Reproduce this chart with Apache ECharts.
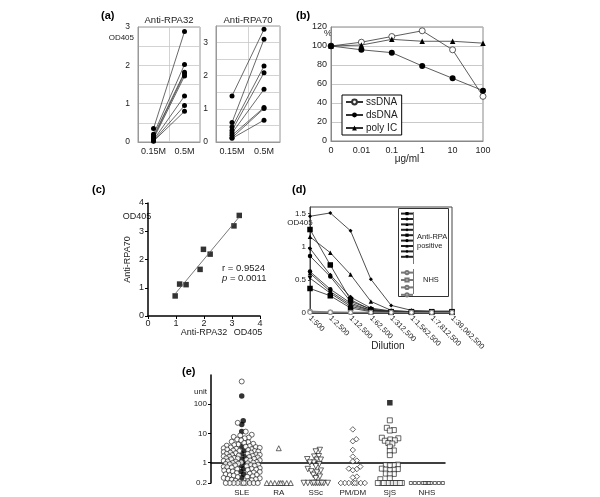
<!DOCTYPE html>
<html><head><meta charset="utf-8">
<script src="https://cdn.jsdelivr.net/npm/echarts@6/dist/echarts.min.js"></script>
<style>html,body{margin:0;padding:0;background:#fff}#c{width:600px;height:497px}</style>
</head><body><div id="c"></div>
<script>
// ---------- (a) ----------
const aCats = ['0.15M', '0.5M'];
const rpa32Low  = [0.35, 0.20, 0.15, 0.12, 0.08, 0.05, 0.03, 0.02];
const rpa32High = [2.88, 2.02, 1.82, 1.78, 1.72, 1.20, 0.95, 0.80];
const rpa70Low  = [1.39, 0.59, 0.45, 0.35, 0.27, 0.20, 0.13, 0.11];
const rpa70High = [3.40, 3.10, 2.29, 2.09, 1.59, 1.04, 1.01, 0.66];
// ---------- (b) ----------
const bCats = ['0', '0.01', '0.1', '1', '10', '100'];
const ssDNA  = [100, 104, 110, 116, 96, 47];
const dsDNA  = [100, 96, 93, 79, 66, 53];
const polyIC = [100, 101, 107, 105, 105, 103];
// ---------- (c) ----------
const cRPA32 = [0.97, 1.13, 1.36, 1.86, 1.98, 2.22, 3.07, 3.26];
const cRPA70 = [0.71, 1.13, 1.11, 1.65, 2.36, 2.19, 3.19, 3.56];
const cStats = ['r = 0.9524', '0.0011'];
// ---------- (d) ----------
const dCats = ['1:500', '1:2,500', '1:12,500', '1:62,500', '1:312,500', '1:1,562,500', '1:7,812,500', '1:39,062,500'];
const dPos1 = [1.26, 0.725, 0.20, 0.05, 0.02, 0.02, 0.02, 0.02];
const dPos2 = [0.86, 0.55, 0.175, 0.06, 0.025, 0.015, 0.015, 0.015];
const dPos3 = [1.15, 0.91, 0.58, 0.175, 0.04, 0.02, 0.02, 0.02];
const dPos4 = [0.975, 0.575, 0.24, 0.075, 0.03, 0.02, 0.015, 0.015];
const dPos5 = [0.37, 0.26, 0.075, 0.02, 0.01, 0.01, 0.01, 0.01];
const dPos6 = [0.625, 0.36, 0.15, 0.04, 0.02, 0.015, 0.01, 0.01];
const dPos7 = [0.60, 0.325, 0.125, 0.04, 0.02, 0.01, 0.01, 0.01];
const dPos8 = [1.46, 1.51, 1.24, 0.51, 0.115, 0.04, 0.03, 0.03];
const dPos9 = [0.525, 0.30, 0.10, 0.03, 0.015, 0.01, 0.01, 0.01];
const dNhs1 = [0.03, 0.015, 0.01, 0.01, 0.01, 0.01, 0.01, 0.01];
const dNhs2 = [0.02, 0.012, 0.01, 0.01, 0.01, 0.01, 0.01, 0.01];
const dNhs3 = [0.015, 0.01, 0.008, 0.008, 0.008, 0.008, 0.008, 0.008];
const dNhs4 = [0.01, 0.01, 0.008, 0.008, 0.008, 0.008, 0.008, 0.008];
const dLegendText = ['Anti-RPA\npositive', 'NHS'];
// ---------- (e) ----------
const eGroups = ['SLE', 'RA', 'SSc', 'PM/DM', 'SjS', 'NHS'];
const eTicks = [0.2, 1, 10, 100];
const sleOpen = [600, 23, 11.5, 9, 8.5, 7.6, 7.2, 6.8, 6.2, 5.8, 5.2, 5.0, 4.7, 4.4, 4.2, 4.0, 3.8, 3.7, 3.5, 3.4, 3.3, 3.2, 3.1, 3.0,
  2.9, 2.8, 2.7, 2.6, 2.5, 2.5, 2.4, 2.3, 2.2, 2.2, 2.1, 2.0, 2.0, 1.9, 1.85, 1.8, 1.75, 1.7, 1.65, 1.6, 1.55, 1.5, 1.45, 1.4, 1.38, 1.35, 1.3, 1.25, 1.2, 1.18, 1.15, 1.1, 1.08, 1.05, 1.02, 1.0,
  0.98, 0.95, 0.92, 0.9, 0.88, 0.85, 0.82, 0.8, 0.78, 0.75, 0.72, 0.7, 0.68, 0.65, 0.62, 0.6, 0.58, 0.56, 0.54, 0.52, 0.5, 0.48, 0.46, 0.44, 0.42, 0.4, 0.38, 0.37, 0.36, 0.34, 0.33, 0.32, 0.3, 0.29, 0.28, 0.27, 0.26, 0.25, 0.24, 0.23, 0.22,
  0.2, 0.2, 0.2, 0.2, 0.2, 0.2, 0.2, 0.2, 0.2, 0.2];
const sleFilled = [190, 27, 20, 11.5, 3.6, 2.6, 2.0, 1.6, 1.3, 1.0, 0.8, 0.62, 0.5, 0.4, 0.3];
const raOpen = [3.1, 0.2, 0.2, 0.2, 0.2, 0.2, 0.2, 0.2, 0.2];
const sscOpen = [2.7, 2.4, 1.65, 1.6, 1.3, 1.25, 1.25, 1.0, 1.0, 0.88, 0.75, 0.6, 0.53, 0.5, 0.46, 0.38, 0.33, 0.29,
  0.2, 0.2, 0.2, 0.2, 0.2, 0.2, 0.2, 0.2, 0.2, 0.2];
const pmdmOpen = [13.7, 6.3, 5.4, 2.7, 1.6, 1.17, 1.1, 0.73, 0.62, 0.6, 0.55, 0.33, 0.31,
  0.2, 0.2, 0.2, 0.2, 0.2, 0.2, 0.2, 0.2];
const sjsOpen = [28, 15.5, 13, 12.5, 7.1, 6.8, 6.2, 5.8, 5.6, 4.7, 4.5, 3.5, 2.6, 2.5, 1.8, 0.85, 0.83, 0.82, 0.8, 0.62, 0.6, 0.58, 0.57, 0.55, 0.42, 0.41, 0.4, 0.29, 0.27,
  0.2, 0.2, 0.2, 0.2, 0.2, 0.2, 0.2, 0.2, 0.2, 0.2, 0.2, 0.2];
const sjsFilled = [112];
const nhsVals = [0.2, 0.2, 0.2, 0.2, 0.2, 0.2, 0.2, 0.2, 0.2, 0.2, 0.2];

// ---------- layout ----------
const FONT = 'Liberation Sans, Arial, sans-serif';
const G = [
  {left: 138, top: 27, width: 62, height: 115},
  {left: 216, top: 26, width: 64, height: 116},
  {left: 331, top: 27, width: 152, height: 114},
  {left: 148, top: 203, width: 112, height: 113},
  {left: 310, top: 207, width: 142, height: 106},
  {left: 211, top: 375, width: 234, height: 108}
];
const eXmin = 0.17, eXmax = 6.49;
const eYmin = Math.log10(0.2), eYmax = 3;
const eHalfWidth = [18, 13, 14, 12, 13, 16];
const pxPerDecade = G[5].height / (eYmax - eYmin);
const pxPerUnitX = G[5].width / (eXmax - eXmin);

// deterministic column-scatter layout: x offsets in px, limited to a half width
function swarm(groups, D, step, half) {
  const placed = [];
  const out = [];
  groups.forEach(vals => {
    const order = vals.map((v, i) => i).sort((a, b) => vals[a] - vals[b]);
    const res = new Array(vals.length);
    order.forEach(i => {
      const py = Math.log10(vals[i]) * pxPerDecade;
      let chosen = null, best = 0, bestD = -1;
      const nK = Math.floor(half / step) * 2 + 1;
      for (let k = 0; k < nK; k++) {
        const o = (k % 2 === 1 ? 1 : -1) * Math.ceil(k / 2) * step;
        let md = Infinity;
        for (const p of placed) {
          const dx = p.x - o, dy = p.y - py;
          const d = Math.sqrt(dx * dx + dy * dy);
          if (d < md) md = d;
        }
        if (md >= D) { chosen = o; break; }
        if (md > bestD) { bestD = md; best = o; }
      }
      const off = chosen === null ? best : chosen;
      placed.push({x: off, y: py});
      res[i] = off;
    });
    out.push(res);
  });
  return out;
}
function eSeries(groupIdx, groupsVals, styles) {
  const offs = swarm(groupsVals, 4, 0.5, eHalfWidth[groupIdx]);
  return groupsVals.map((vals, k) => Object.assign({
    type: 'scatter', xAxisIndex: 5, yAxisIndex: 5, silent: true,
    data: vals.map((v, i) => [groupIdx + 1 + offs[k][i] / pxPerUnitX, Math.log10(v)])
  }, styles[k]));
}
const openStyle = (sym, size, rot) => ({symbol: sym, symbolSize: size, symbolRotate: rot || 0,
  itemStyle: {color: '#fff', borderColor: '#111', borderWidth: 0.8}});
const filledStyle = (sym, size) => ({symbol: sym, symbolSize: size, itemStyle: {color: '#000'}});

const series = [];
// (a)
rpa32Low.forEach((v, i) => series.push({type: 'line', xAxisIndex: 0, yAxisIndex: 0, data: [v, rpa32High[i]],
  symbol: 'circle', symbolSize: 5, itemStyle: {color: '#000'}, lineStyle: {color: '#444', width: 0.8}, silent: true}));
rpa70Low.forEach((v, i) => series.push({type: 'line', xAxisIndex: 1, yAxisIndex: 1, data: [v, rpa70High[i]],
  symbol: 'circle', symbolSize: 5, itemStyle: {color: '#000'}, lineStyle: {color: '#444', width: 0.8}, silent: true}));
// (b)
series.push({name: 'ssDNA', type: 'line', xAxisIndex: 2, yAxisIndex: 2, data: ssDNA, symbol: 'circle', symbolSize: 6,
  itemStyle: {color: '#fff', borderColor: '#333', borderWidth: 0.8}, lineStyle: {color: '#333', width: 0.8}});
series.push({name: 'dsDNA', type: 'line', xAxisIndex: 2, yAxisIndex: 2, data: dsDNA, symbol: 'circle', symbolSize: 6,
  itemStyle: {color: '#000'}, lineStyle: {color: '#333', width: 0.8}});
series.push({name: 'poly IC', type: 'line', xAxisIndex: 2, yAxisIndex: 2, data: polyIC, symbol: 'triangle', symbolSize: 5.5,
  itemStyle: {color: '#000'}, lineStyle: {color: '#333', width: 0.8}});
// (c)
series.push({type: 'scatter', xAxisIndex: 3, yAxisIndex: 3, data: cRPA32.map((x, i) => [x, cRPA70[i]]),
  symbol: 'rect', symbolSize: 5.5, itemStyle: {color: '#000'}, silent: true});
(function () {
  const n = cRPA32.length;
  const mx = cRPA32.reduce((a, b) => a + b) / n, my = cRPA70.reduce((a, b) => a + b) / n;
  let sxy = 0, sxx = 0;
  cRPA32.forEach((x, i) => { sxy += (x - mx) * (cRPA70[i] - my); sxx += (x - mx) * (x - mx); });
  const b = sxy / sxx, a = my - b * mx;
  const x0 = Math.min(...cRPA32), x1 = Math.max(...cRPA32);
  series.push({type: 'line', xAxisIndex: 3, yAxisIndex: 3, data: [[x0, a + b * x0], [x1, a + b * x1]],
    symbol: 'none', lineStyle: {color: '#555', width: 0.8}, silent: true});
})();
// (d)
const dPosAll = [dPos1, dPos2, dPos3, dPos4, dPos5, dPos6, dPos7, dPos8, dPos9];
const dPosSym = ['rect', 'circle', 'triangle', 'diamond', 'rect', 'circle', 'triangle', 'diamond', 'triangle'];
const dPosRot = [0, 0, 0, 0, 0, 0, 0, 0, 180];
const dPosSize = [5.5, 4.5, 4.5, 4.5, 5.5, 4.5, 4.5, 4, 4.5];
const dPosNames = dPosAll.map((d, i) => 'pos' + (i + 1));
dPosAll.forEach((d, i) => series.push({name: dPosNames[i], type: 'line', xAxisIndex: 4, yAxisIndex: 4, data: d,
  symbol: dPosSym[i], symbolRotate: dPosRot[i], symbolSize: dPosSize[i], itemStyle: {color: '#000'},
  lineStyle: {color: '#222', width: 0.8}}));
const dNhsAll = [dNhs1, dNhs2, dNhs3, dNhs4];
const dNhsSym = ['circle', 'rect', 'circle', 'circle'];
const dNhsNames = dNhsAll.map((d, i) => 'nhs' + (i + 1));
dNhsAll.forEach((d, i) => series.push({name: dNhsNames[i], type: 'line', xAxisIndex: 4, yAxisIndex: 4, data: d,
  symbol: dNhsSym[i], symbolSize: 4, itemStyle: {color: '#fff', borderColor: '#777', borderWidth: 0.7}, lineStyle: {color: '#777', width: 0.8}}));
// (e)
series.push(...eSeries(0, [sleFilled, sleOpen], [filledStyle('circle', 5.5), openStyle('circle', 5)]));
series.push(...eSeries(1, [raOpen], [openStyle('triangle', 5)]));
series.push(...eSeries(2, [sscOpen], [openStyle('triangle', 5.5, 180)]));
series.push(...eSeries(3, [pmdmOpen], [openStyle('diamond', 5.5)]));
series.push(...eSeries(4, [sjsFilled, sjsOpen], [filledStyle('rect', 5.5), openStyle('rect', 5)]));
series.push(...eSeries(5, [nhsVals], [openStyle('rect', 3)]));

const gridAxisLabel = {fontSize: 8.5, color: '#222', fontFamily: FONT};
const lightSplit = {show: true, interval: 0, lineStyle: {color: '#c8c8c8', width: 0.8}};
function aY(idx, max) {
  return {gridIndex: idx, type: 'value', min: 0, max: max, interval: 0.5,
    axisLine: {show: true, lineStyle: {color: '#999'}}, axisTick: {show: false},
    axisLabel: Object.assign({}, gridAxisLabel, {formatter: v => (Math.abs(v - Math.round(v)) < 1e-9 ? String(Math.round(v)) : '')}),
    splitLine: lightSplit};
}
function aX(idx) {
  return {gridIndex: idx, type: 'category', data: aCats, boundaryGap: true,
    axisLine: {lineStyle: {color: '#999'}}, axisTick: {show: false},
    axisLabel: Object.assign({}, gridAxisLabel, {fontSize: 9, margin: 5, interval: 0}), splitLine: lightSplit};
}
const blackAxis = {show: true, lineStyle: {color: '#000', width: 1.5}};
const t = (x, y, text, extra) => ({type: 'text', x: x, y: y, silent: true,
  style: Object.assign({text: text, fill: '#222', font: '9px ' + FONT, textAlign: 'left', textVerticalAlign: 'middle'}, extra || {})});
const bold = {font: 'bold 11px ' + FONT, fill: '#000'};

const option = {
  animation: false,
  textStyle: {fontFamily: FONT},
  grid: [
    Object.assign({show: true, borderColor: '#999', borderWidth: 1}, G[0]),
    Object.assign({show: true, borderColor: '#999', borderWidth: 1}, G[1]),
    Object.assign({show: true, borderColor: '#888', borderWidth: 1}, G[2]),
    Object.assign({}, G[3]),
    Object.assign({show: true, borderColor: '#444', borderWidth: 1}, G[4]),
    Object.assign({}, G[5])
  ],
  xAxis: [
    aX(0), aX(1),
    {gridIndex: 2, type: 'category', data: bCats, boundaryGap: false, axisLine: {lineStyle: {color: '#888'}},
      axisTick: {show: false}, axisLabel: Object.assign({}, gridAxisLabel, {fontSize: 9, margin: 5, interval: 0}), splitLine: {show: false}},
    {gridIndex: 3, type: 'value', min: 0, max: 4, interval: 1, axisLine: blackAxis,
      axisTick: {show: true, length: 3, lineStyle: {color: '#000'}}, axisLabel: Object.assign({}, gridAxisLabel, {fontSize: 9, margin: 3}), splitLine: {show: false}},
    {gridIndex: 4, type: 'category', data: dCats, boundaryGap: false, axisLine: {lineStyle: {color: '#444'}},
      axisTick: {show: false}, axisLabel: Object.assign({}, gridAxisLabel, {fontSize: 7.5, rotate: -45, margin: 4, interval: 0}), splitLine: {show: false}},
    {gridIndex: 5, type: 'value', min: eXmin, max: eXmax, axisLine: blackAxis, axisTick: {show: false},
      axisLabel: Object.assign({}, gridAxisLabel, {fontSize: 8, margin: 6, customValues: [1, 2, 3, 4, 5, 6],
        formatter: v => eGroups[Math.round(v) - 1] || ''}), splitLine: {show: false}}
  ],
  yAxis: [
    aY(0, 3), aY(1, 3.5),
    {gridIndex: 2, type: 'value', min: 0, max: 120, interval: 20, axisLine: {show: true, lineStyle: {color: '#888'}},
      axisTick: {show: false}, axisLabel: Object.assign({}, gridAxisLabel, {fontSize: 9, margin: 4}), splitLine: {show: true, lineStyle: {color: '#bbb', width: 0.8}}},
    {gridIndex: 3, type: 'value', min: 0, max: 4, interval: 1, axisLine: blackAxis,
      axisTick: {show: true, length: 3, lineStyle: {color: '#000'}}, axisLabel: Object.assign({}, gridAxisLabel, {fontSize: 9, margin: 4}),
      splitLine: {show: false}, name: 'Anti-RPA70', nameLocation: 'middle', nameGap: 16, nameRotate: 90,
      nameTextStyle: {fontSize: 9, color: '#222', fontFamily: FONT}},
    {gridIndex: 4, type: 'value', min: 0, max: 1.6, axisLine: {show: true, lineStyle: {color: '#444'}},
      axisTick: {show: true, length: 2, customValues: [0, 0.5, 1, 1.5]},
      axisLabel: Object.assign({}, gridAxisLabel, {fontSize: 8, margin: 4, customValues: [0, 0.5, 1, 1.5]}), splitLine: {show: false}},
    {gridIndex: 5, type: 'value', min: eYmin, max: eYmax, axisLine: blackAxis,
      axisTick: {show: true, length: 3, lineStyle: {color: '#000'}, customValues: eTicks.map(v => Math.log10(v))},
      axisLabel: Object.assign({}, gridAxisLabel, {fontSize: 8, margin: 4, customValues: eTicks.map(v => Math.log10(v)),
        formatter: v => { const r = Math.pow(10, v); return r < 1 ? String(Math.round(r * 10) / 10) : String(Math.round(r)); }}),
      splitLine: {show: false}}
  ],
  legend: [
    {data: ['ssDNA', 'dsDNA', 'poly IC'], orient: 'vertical', left: 342, top: 95, itemWidth: 17, itemHeight: 6, itemGap: 3,
      padding: [2, 4, 2, 3], borderColor: '#000', borderWidth: 1, backgroundColor: '#fff', selectedMode: false,
      textStyle: {fontSize: 10, color: '#222', fontFamily: FONT, padding: [0, 0, 0, -2]}},
    {data: dPosNames, orient: 'vertical', left: 400, top: 212, itemWidth: 12, itemHeight: 4, itemGap: 2.2, padding: 0,
      selectedMode: false, formatter: () => '', textStyle: {fontSize: 4, lineHeight: 4}},
    {data: dNhsNames, orient: 'vertical', left: 400, top: 270, itemWidth: 12, itemHeight: 4, itemGap: 2.2, padding: 0,
      selectedMode: false, formatter: () => '', textStyle: {fontSize: 4, lineHeight: 4}}
  ],
  graphic: [
    t(101, 16, '(a)', bold),
    t(169, 20, 'Anti-RPA32', {textAlign: 'center', font: '9.5px ' + FONT}),
    t(248, 20, 'Anti-RPA70', {textAlign: 'center', font: '9.5px ' + FONT}),
    t(134, 38, 'OD405', {textAlign: 'right', font: '8px ' + FONT}),
    t(296, 16, '(b)', bold),
    t(324, 34, '%', {font: '9px ' + FONT}),
    t(407, 159, 'μg/ml', {textAlign: 'center', font: '10px ' + FONT}),
    t(92, 190, '(c)', bold),
    t(137, 217, 'OD405', {textAlign: 'center', font: '9px ' + FONT}),
    t(204, 333, 'Anti-RPA32', {textAlign: 'center', font: '9px ' + FONT}),
    t(248, 333, 'OD405', {textAlign: 'center', font: '9px ' + FONT}),
    t(222, 268, cStats[0], {font: '9.5px ' + FONT}),
    {type: 'text', x: 222, y: 278, silent: true, style: {text: '{i|p} = ' + cStats[1], fill: '#222', font: '9.5px ' + FONT,
      textVerticalAlign: 'middle', rich: {i: {fontStyle: 'italic', fontSize: 9.5, fontFamily: FONT}}}},
    t(292, 190, '(d)', bold),
    t(300, 223, 'OD405', {textAlign: 'center', font: '8px ' + FONT}),
    t(388, 346, 'Dilution', {textAlign: 'center', font: '10px ' + FONT}),
    {type: 'rect', shape: {x: 398.5, y: 208.5, width: 50, height: 88}, style: {fill: 'none', stroke: '#333', lineWidth: 1}, silent: true, z: -1},
    {type: 'line', shape: {x1: 413.5, y1: 212, x2: 413.5, y2: 264}, style: {stroke: '#555', lineWidth: 0.8}, silent: true},
    {type: 'line', shape: {x1: 413.5, y1: 269, x2: 413.5, y2: 294}, style: {stroke: '#555', lineWidth: 0.8}, silent: true},
    t(417, 241, dLegendText[0], {font: '7.5px ' + FONT, lineHeight: 9}),
    t(423, 280, dLegendText[1], {font: '7.5px ' + FONT}),
    t(182, 372, '(e)', bold),
    t(207, 392, 'unit', {textAlign: 'right', font: '8px ' + FONT})
  ],
  series: series
};
const chart = echarts.init(document.getElementById('c'), null, {renderer: 'canvas'});
chart.setOption(option);
</script>
</body></html>
